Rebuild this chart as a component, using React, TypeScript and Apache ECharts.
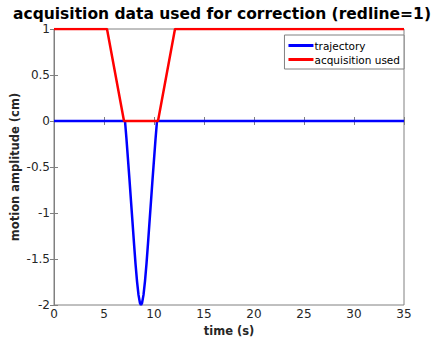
import React, { useEffect, useRef } from "react";
import * as echarts from "echarts";

const trajX = [0, 7.1, 7.25, 7.4, 7.55, 7.7, 7.85, 8.0, 8.15, 8.3, 8.45, 8.6, 8.7, 8.8, 8.95, 9.1, 9.25, 9.4, 9.55, 9.7, 9.85, 10.0, 10.15, 10.3, 35];
const trajY = [0, 0, -0.2, -0.42, -0.64, -0.87, -1.1, -1.33, -1.55, -1.74, -1.89, -1.98, -2.0, -1.98, -1.89, -1.74, -1.55, -1.33, -1.1, -0.87, -0.64, -0.42, -0.2, 0, 0];
const acqX = [0, 5.3, 7.0, 10.4, 12.1, 35];
const acqY = [1, 1, 0, 0, 1, 1];
const xTicks = [0, 5, 10, 15, 20, 25, 30, 35];
const yTicks = [-2, -1.5, -1, -0.5, 0, 0.5, 1];

const FONT = "DejaVu Sans";

export default function App() {
  const ref = useRef<HTMLDivElement>(null);
  useEffect(() => {
    const chart = echarts.init(ref.current!, null, { renderer: "svg" });
    const axisCommon = {
      type: "value" as const,
      axisLine: { show: true, lineStyle: { color: "#808080", width: 1 } },
      axisTick: { show: true, inside: true, length: 4, lineStyle: { color: "#808080" } },
      splitLine: { show: false },
    };
    chart.setOption({
      animation: false,
      backgroundColor: "#fff",
      title: {
        text: "acquisition data used for correction (redline=1)",
        left: "center",
        top: 1,
        textStyle: { fontFamily: FONT, fontWeight: "bold", fontSize: 15.5, color: "#000" },
      },
      legend: {
        orient: "vertical",
        right: 40,
        top: 35,
        itemWidth: 25,
        itemHeight: 3,
        itemGap: 3,
        padding: [5, 4, 4, 4],
        borderColor: "#808080",
        borderWidth: 1,
        backgroundColor: "#fff",
        textStyle: { fontFamily: FONT, fontSize: 10.5, color: "#000", padding: [0, 0, 0, -4] },
        data: [
          { name: "trajectory", icon: "rect" },
          { name: "acquisition used", icon: "rect" },
        ],
      },
      grid: {
        left: 54,
        right: 40,
        top: 29,
        bottom: 36,
        show: true,
        borderColor: "#808080",
        borderWidth: 1,
        containLabel: false,
        outerBoundsMode: "none",
      },
      xAxis: [
        {
          ...axisCommon,
          min: 0,
          max: 35,
          interval: 5,
          name: "time (s)",
          nameLocation: "middle",
          nameGap: 20,
          nameMoveOverlap: false,
          nameTextStyle: { fontFamily: FONT, fontWeight: "bold", fontSize: 11.5, color: "#262626" },
          axisLabel: {
            fontFamily: FONT,
            fontSize: 12,
            color: "#262626",
            margin: 3,
            formatter: (v: number) => (xTicks.includes(v) ? String(v) : ""),
          },
        },
        {
          ...axisCommon,
          position: "top",
          min: 0,
          max: 35,
          interval: 5,
          axisLabel: { show: false },
        },
      ],
      yAxis: [
        {
          ...axisCommon,
          min: -2,
          max: 1,
          interval: 0.5,
          name: "motion amplitude (cm)",
          nameLocation: "middle",
          nameGap: 33,
          nameMoveOverlap: false,
          nameTextStyle: { fontFamily: FONT, fontWeight: "bold", fontSize: 11.5, color: "#262626" },
          axisLabel: {
            fontFamily: FONT,
            fontSize: 12,
            color: "#262626",
            margin: 4,
            formatter: (v: number) => (yTicks.includes(v) ? String(v) : ""),
          },
        },
        {
          ...axisCommon,
          position: "right",
          min: -2,
          max: 1,
          interval: 0.5,
          axisLabel: { show: false },
        },
      ],
      series: [
        {
          name: "trajectory",
          type: "line",
          showSymbol: false,
          color: "#0000ff",
          lineStyle: { color: "#0000ff", width: 2.5 },
          data: trajX.map((x, i) => [x, trajY[i]]),
          z: 2,
        },
        {
          name: "acquisition used",
          type: "line",
          showSymbol: false,
          color: "#ff0000",
          lineStyle: { color: "#ff0000", width: 2.5 },
          data: acqX.map((x, i) => [x, acqY[i]]),
          z: 3,
        },
      ],
    });
    return () => chart.dispose();
  }, []);
  return <div ref={ref} style={{ width: 444, height: 341, position: "absolute", left: 0, top: 0 }} />;
}
